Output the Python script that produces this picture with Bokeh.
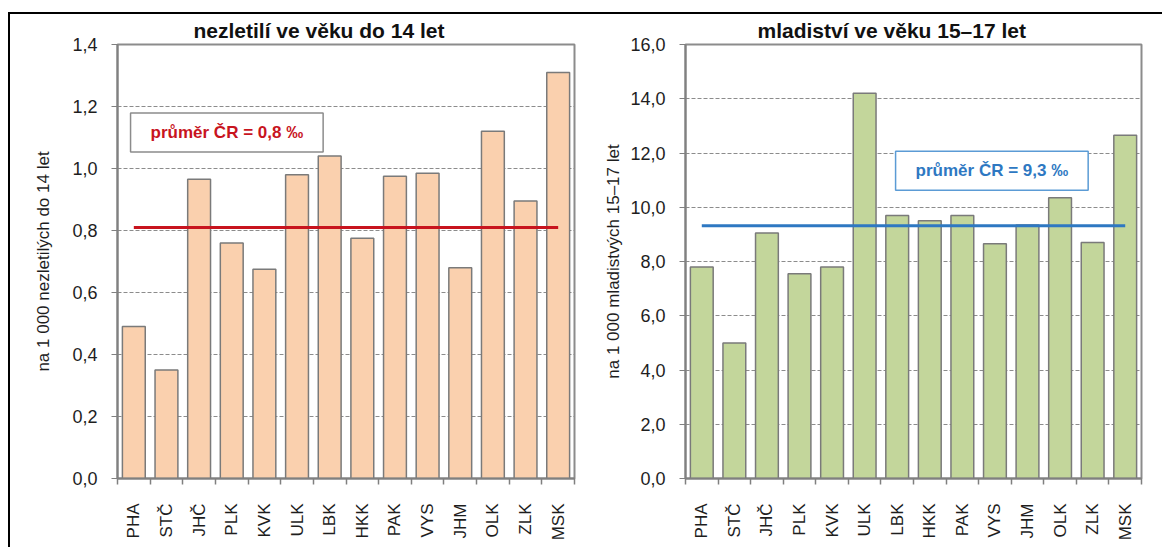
from bokeh.plotting import figure
from bokeh.layouts import row
from bokeh.models import FixedTicker, CustomJSTickFormatter, Label, Range1d
from bokeh.embed import file_html
from bokeh.resources import INLINE
import math

categories = ["PHA", "STČ", "JHČ", "PLK", "KVK", "ULK", "LBK", "HKK", "PAK", "VYS", "JHM", "OLK", "ZLK", "MSK"]
children_values = [0.49, 0.35, 0.965, 0.76, 0.675, 0.98, 1.04, 0.775, 0.975, 0.985, 0.68, 1.12, 0.895, 1.31]
youth_values = [7.8, 5.0, 9.05, 7.55, 7.8, 14.2, 9.7, 9.5, 9.7, 8.65, 9.35, 10.35, 8.7, 12.65]
children_avg = 0.81
youth_avg = 9.32
children_avg_label = "průměr ČR = 0,8 ‰"
youth_avg_label = "průměr ČR = 9,3 ‰"
children_title = "nezletilí ve věku do 14 let"
youth_title = "mladiství ve věku 15–17 let"
children_ylabel = "na 1 000 nezletilých do 14 let"
youth_ylabel = "na 1 000 mladistvých 15–17 let"
children_yticks = [0.0, 0.2, 0.4, 0.6, 0.8, 1.0, 1.2, 1.4]
youth_yticks = [0.0, 2.0, 4.0, 6.0, 8.0, 10.0, 12.0, 14.0, 16.0]

FONT = "Liberation Sans"
TEXT = "#1e1e1e"


def make_panel(values, avg, avg_text, title, ylabel, yticks, fill, avg_color, box_color,
               width, height, mb_left, mb_right, label_x, label_y, title_offset, ylabel_standoff):
    n = len(categories)
    xs = list(range(n))
    p = figure(width=width, height=height, output_backend="svg", toolbar_location=None,
               x_range=Range1d(-0.5, n - 0.5), y_range=Range1d(yticks[0], yticks[-1]),
               min_border_left=mb_left, min_border_right=mb_right,
               min_border_top=30, min_border_bottom=69)
    p.title.text = title
    p.title.text_font = FONT
    p.title.text_font_size = "21px"
    p.title.text_font_style = "bold"
    p.title.text_color = "#111111"
    p.title.align = "left"
    p.title.offset = title_offset
    p.title.standoff = 5

    p.vbar(x=xs, top=values, width=0.7, bottom=0, fill_color=fill,
           line_color="#7a7a7a", line_width=1.5)
    p.line(x=[xs[0], xs[-1]], y=[avg, avg], line_color=avg_color, line_width=3)

    lab = Label(x=label_x, y=label_y, text=avg_text, text_font=FONT, text_font_size="17px",
                text_font_style="bold", text_color=avg_color, text_baseline="middle",
                background_fill_color="white", border_line_color=box_color,
                border_line_width=1.5,
                padding=dict(left=20, right=20, top=10, bottom=10))
    p.add_layout(lab)

    # x axis
    xa = p.xaxis[0]
    xa.ticker = FixedTicker(ticks=xs, minor_ticks=[i - 0.5 for i in range(n + 1)])
    xa.major_label_overrides = {i: c for i, c in enumerate(categories)}
    xa.major_label_orientation = math.pi / 2
    xa.major_label_text_font = FONT
    xa.major_label_text_font_size = "17px"
    xa.major_label_text_color = TEXT
    xa.major_label_standoff = 19
    xa.major_tick_line_color = None
    xa.minor_tick_line_color = "#808080"
    xa.minor_tick_line_width = 1.5
    xa.minor_tick_in = 0
    xa.minor_tick_out = 6
    xa.axis_line_color = "#808080"
    xa.axis_line_width = 2

    # y axis
    ya = p.yaxis[0]
    ya.ticker = FixedTicker(ticks=yticks, minor_ticks=[])
    ya.formatter = CustomJSTickFormatter(code="return tick.toFixed(1).replace('.', ',');")
    ya.major_label_text_font = FONT
    ya.major_label_text_font_size = "18px"
    ya.major_label_text_color = TEXT
    ya.major_label_standoff = 14
    ya.major_tick_line_color = "#808080"
    ya.major_tick_in = 0
    ya.major_tick_out = 6
    ya.minor_tick_line_color = None
    ya.axis_line_color = "#808080"
    ya.axis_line_width = 2
    ya.axis_label = ylabel
    ya.axis_label_text_font = FONT
    ya.axis_label_text_font_size = "17px"
    ya.axis_label_text_font_style = "normal"
    ya.axis_label_text_color = TEXT
    ya.axis_label_standoff = ylabel_standoff

    p.xgrid.grid_line_color = None
    p.ygrid.grid_line_color = "#8c8c8c"
    p.ygrid.grid_line_dash = "4 2"
    p.ygrid.grid_line_width = 1

    p.outline_line_color = "#8c8c8c"
    p.outline_line_width = 2
    p.background_fill_color = "white"
    p.border_fill_color = "white"
    return p


p1 = make_panel(children_values, children_avg, children_avg_label, children_title,
                children_ylabel, children_yticks, "#FAD0AE", "#C8141E", "#8c8c8c",
                width=588, height=533, mb_left=107, mb_right=24,
                label_x=-0.1, label_y=1.116, title_offset=76, ylabel_standoff=16)
p2 = make_panel(youth_values, youth_avg, youth_avg_label, youth_title,
                youth_ylabel, youth_yticks, "#C3D69B", "#2E78C2", "#5B9BD5",
                width=564, height=533, mb_left=87, mb_right=21,
                label_x=5.95, label_y=11.35, title_offset=72, ylabel_standoff=4)

layout = row(p1, p2, margin=(12, 0, 0, 8),
             styles={"border-top": "2px solid black", "border-left": "2px solid black"})

open("out.html", "w").write(file_html(layout, INLINE))
